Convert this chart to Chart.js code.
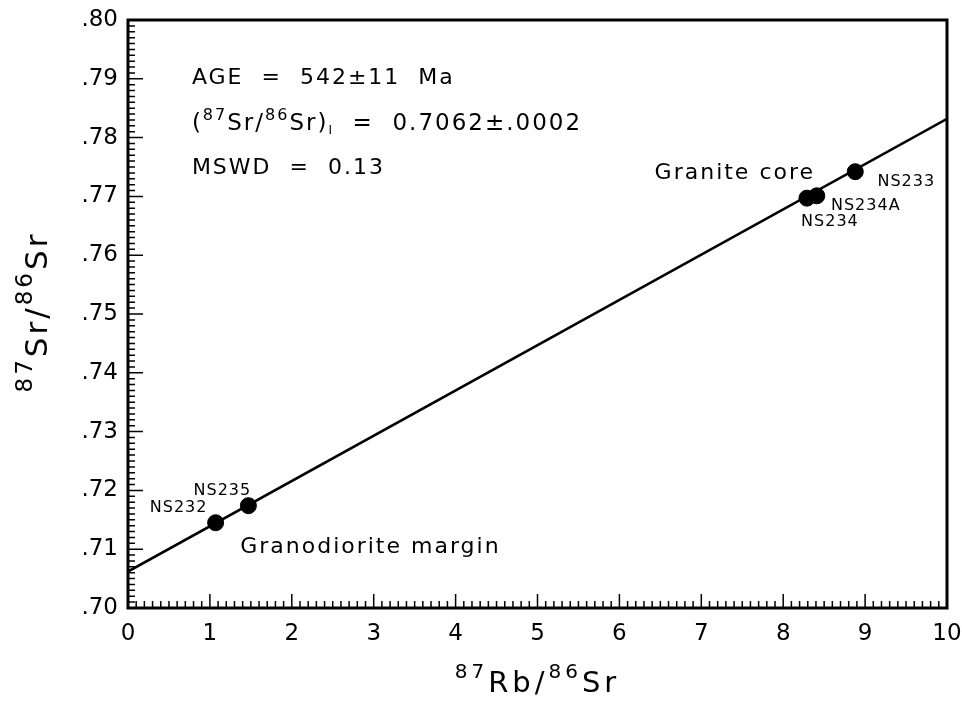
<!DOCTYPE html>
<html>
<head>
<meta charset="utf-8">
<script src="https://cdn.jsdelivr.net/npm/chart.js@4/dist/chart.umd.min.js"></script>
<style>
  html, body { margin: 0; padding: 0; background: #fff; overflow: hidden; }
  canvas { display: block; }
</style>
</head>
<body>
<canvas id="chart_canvas" width="962" height="704"></canvas>
<script>
// sample data
const sampleNames = ['NS232', 'NS235', 'NS234', 'NS234A', 'NS233'];
const rbSr = [1.07, 1.47, 8.29, 8.41, 8.88];
const srSr = [0.7145, 0.7174, 0.7697, 0.7701, 0.7742];

// fitted isochron
const isochronX = [0, 10];
const isochronY = [0.7062, 0.7832];

const xTickValues = [0, 1, 2, 3, 4, 5, 6, 7, 8, 9, 10];
const yTickValues = [0.70, 0.71, 0.72, 0.73, 0.74, 0.75, 0.76, 0.77, 0.78, 0.79, 0.80];

const FONT = "'DejaVu Sans', sans-serif";

// offsets of sample labels from their point (pixels)
const labelOffsets = {
    NS232: [-37, -15],
    NS235: [-26, -15],
    NS234: [23, 24],
    NS234A: [49, 10],
    NS233: [51, 10]
};

// draw text made of runs with different size / vertical shift
function drawRich(ctx, parts, x, y, align, spacing) {
    ctx.letterSpacing = (spacing || 0) + 'px';
    let total = 0;
    parts.forEach(p => {
        ctx.font = p.size + 'px ' + FONT;
        total += ctx.measureText(p.t).width;
    });
    let cx = align === 'center' ? x - total / 2 : x;
    ctx.textAlign = 'left';
    ctx.textBaseline = 'alphabetic';
    parts.forEach(p => {
        ctx.font = p.size + 'px ' + FONT;
        ctx.fillText(p.t, cx, y + (p.dy || 0));
        cx += ctx.measureText(p.t).width;
    });
    ctx.letterSpacing = '0px';
}

const isoPlot = {
    id: 'isoPlot',
    afterDraw(chart) {
        const ctx = chart.ctx;
        const {left, right, top, bottom} = chart.chartArea;
        const xs = chart.scales.x, ys = chart.scales.y;
        ctx.save();
        ctx.strokeStyle = '#000';
        ctx.fillStyle = '#000';

        // inward ticks
        ctx.lineWidth = 1.5;
        ctx.beginPath();
        for (let i = 0; i <= 100; i++) {
            const px = xs.getPixelForValue(i / 10);
            const len = i % 10 === 0 ? 14 : 7;
            ctx.moveTo(px, bottom);
            ctx.lineTo(px, bottom - len);
        }
        for (let i = 0; i <= 100; i++) {
            const py = ys.getPixelForValue(0.70 + i * 0.001);
            const len = i % 10 === 0 ? 15 : 7;
            ctx.moveTo(left, py);
            ctx.lineTo(left + len, py);
        }
        ctx.stroke();

        // frame
        ctx.lineWidth = 3;
        ctx.strokeRect(left, top, right - left, bottom - top);

        // sample labels
        ctx.font = '16px ' + FONT;
        ctx.letterSpacing = '1px';
        ctx.textAlign = 'center';
        ctx.textBaseline = 'middle';
        sampleNames.forEach((n, i) => {
            const o = labelOffsets[n];
            ctx.fillText(n, xs.getPixelForValue(rbSr[i]) + o[0], ys.getPixelForValue(srSr[i]) + o[1]);
        });

        // group labels
        ctx.font = '22px ' + FONT;
        ctx.letterSpacing = '2px';
        ctx.textAlign = 'left';
        ctx.fillText('Granite core', xs.getPixelForValue(6.43), ys.getPixelForValue(0.7740));
        ctx.fillText('Granodiorite margin', xs.getPixelForValue(1.37), ys.getPixelForValue(0.7104));
        ctx.letterSpacing = '0px';

        // stats
        const sx = xs.getPixelForValue(0.78);
        drawRich(ctx, [{t: 'AGE  =  542±11  Ma', size: 22}], sx, ys.getPixelForValue(0.7905) + 8, 'left', 2);
        drawRich(ctx, [
            {t: '(', size: 23}, {t: '87', size: 16, dy: -10}, {t: 'Sr/', size: 23},
            {t: '86', size: 16, dy: -10}, {t: 'Sr)', size: 23}, {t: 'I', size: 12, dy: 4},
            {t: '  =  0.7062±.0002', size: 23}
        ], sx, ys.getPixelForValue(0.7826) + 8, 'left', 2);
        drawRich(ctx, [{t: 'MSWD  =  0.13', size: 22}], sx, ys.getPixelForValue(0.7752) + 8, 'left', 2);

        // axis titles
        drawRich(ctx, [
            {t: '87', size: 20, dy: -14}, {t: 'Rb/', size: 29},
            {t: '86', size: 20, dy: -14}, {t: 'Sr', size: 29}
        ], (left + right) / 2, 692, 'center', 4);

        ctx.translate(47, 312);
        ctx.rotate(-Math.PI / 2);
        drawRich(ctx, [
            {t: '87', size: 23, dy: -15}, {t: 'Sr/', size: 31},
            {t: '86', size: 23, dy: -15}, {t: 'Sr', size: 31}
        ], 0, 0, 'center', 3);
        ctx.restore();
    }
};

const ctx = document.getElementById('chart_canvas');
const chartObj = new Chart(ctx, {
    type: 'scatter',
    data: {
        datasets: [
            {
                type: 'line',
                data: isochronX.map((x, i) => ({x: x, y: isochronY[i]})),
                borderColor: '#000',
                borderWidth: 2.5,
                pointRadius: 0,
                fill: false
            },
            {
                data: rbSr.map((x, i) => ({x: x, y: srSr[i]})),
                backgroundColor: '#000',
                borderColor: '#000',
                pointRadius: 8,
                pointHoverRadius: 8
            }
        ]
    },
    options: {
        responsive: false,
        animation: false,
        layout: {padding: {top: 20, right: 15, left: 0, bottom: 0}},
        plugins: {legend: {display: false}, tooltip: {enabled: false}},
        scales: {
            x: {
                type: 'linear', min: 0, max: 10,
                afterBuildTicks: s => { s.ticks = xTickValues.map(v => ({value: v})); },
                afterFit: s => { s.height = 96; s.paddingLeft = 0; s.paddingRight = 0; },
                grid: {display: false, drawTicks: false},
                border: {display: false},
                ticks: {color: '#000', font: {family: FONT, size: 23}, padding: 12}
            },
            y: {
                type: 'linear', min: 0.70, max: 0.80,
                afterBuildTicks: s => { s.ticks = yTickValues.map(v => ({value: v})); },
                afterFit: s => { s.width = 128; s.paddingTop = 0; s.paddingBottom = 0; },
                grid: {display: false, drawTicks: false},
                border: {display: false},
                ticks: {
                    color: '#000', font: {family: FONT, size: 23}, padding: 10,
                    callback: v => v.toFixed(2).replace(/^0/, '')
                }
            }
        }
    },
    plugins: [isoPlot]
});
</script>
</body>
</html>
